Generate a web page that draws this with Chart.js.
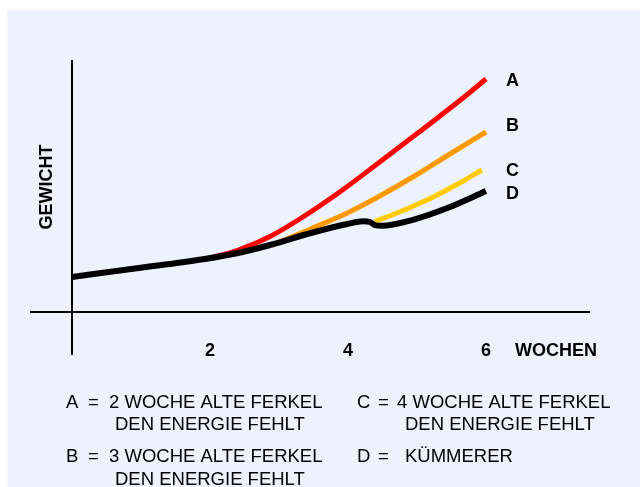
<!DOCTYPE html>
<html><head><meta charset="utf-8">
<style>html,body{margin:0;padding:0;background:#fff;}canvas{display:block;}</style>
<script src="https://cdn.jsdelivr.net/npm/chart.js@4.4.0/dist/chart.umd.min.js"></script>
</head><body>
<canvas id="c" width="640" height="487"></canvas>
<script>
// ---- data (weeks vs. relative weight) ----
const weeksD   = [0.00, 0.94, 1.90, 2.39, 2.87, 3.49, 3.99, 4.22, 4.32, 4.39, 4.49, 4.94, 5.43, 6.00];
const weightD  = [3.50, 4.37, 5.27, 5.87, 6.70, 7.95, 8.80, 9.08, 9.00, 8.68, 8.62, 9.22, 10.37, 12.10];
const weeksA   = [2.00, 2.43, 2.87, 3.30, 3.88, 4.46, 5.04, 5.62, 6.00];
const weightA  = [5.37, 6.25, 7.55, 9.30, 12.00, 15.00, 18.05, 21.15, 23.30];
const weeksB   = [2.90, 3.49, 3.99, 4.46, 4.94, 5.43, 6.00];
const weightB  = [6.68, 8.40, 9.90, 11.60, 13.50, 15.60, 18.00];
const weeksC   = [4.39, 4.71, 5.19, 5.67, 5.94];
const weightC  = [9.05, 9.90, 11.35, 13.10, 14.20];
const seriesNames = ['A', 'B', 'C', 'D'];
const tickWeeks = [2, 4, 6];
const tickLabels = ['2', '4', '6'];
const xTitle = 'WOCHEN';
const yTitle = 'GEWICHT';
const legendKeys = ['A', 'B', 'C', 'D'];
const legendText = [
  ['2 WOCHE ALTE FERKEL', 'DEN ENERGIE FEHLT'],
  ['3 WOCHE ALTE FERKEL', 'DEN ENERGIE FEHLT'],
  ['4 WOCHE ALTE FERKEL', 'DEN ENERGIE FEHLT'],
  ['KÜMMERER']
];

const FONT = '"Liberation Sans", Arial, Helvetica, sans-serif';
const pts = (xs, ys) => xs.map((x, i) => ({x: x, y: ys[i]}));

function capText(ctx, txt, x, cy, size, bold, align) {
  ctx.font = (bold ? 'bold ' : '') + size + 'px ' + FONT;
  ctx.textAlign = align || 'left';
  ctx.textBaseline = 'alphabetic';
  ctx.fillText(txt, x, cy + size * 0.716 / 2);
}

const bgPlugin = {
  id: 'bg',
  beforeDraw(chart) {
    const ctx = chart.ctx;
    ctx.save();
    ctx.fillStyle = '#ffffff';
    ctx.fillRect(0, 0, chart.width, chart.height);
    ctx.fillStyle = '#eef2fd';
    ctx.fillRect(7, 10, chart.width - 7, chart.height - 10);
    ctx.restore();
  }
};

const axesPlugin = {
  id: 'axes',
  beforeDatasetsDraw(chart) {
    const {ctx, chartArea: a, scales: {x, y}} = chart;
    ctx.save();
    ctx.strokeStyle = '#000';
    ctx.lineWidth = 2;
    const x0 = Math.round(x.getPixelForValue(0));
    const y0 = Math.round(y.getPixelForValue(0));
    ctx.beginPath();
    ctx.moveTo(x0, a.top); ctx.lineTo(x0, a.bottom);
    ctx.moveTo(a.left, y0); ctx.lineTo(a.right, y0);
    ctx.stroke();
    ctx.restore();
  },
  afterDraw(chart) {
    const {ctx, scales: {x, y}} = chart;
    ctx.save();
    ctx.fillStyle = '#000';
    tickWeeks.forEach((w, i) => capText(ctx, tickLabels[i], x.getPixelForValue(w), 350, 18, true, 'center'));
    capText(ctx, xTitle, 556, 350, 18, true, 'center');
    ctx.save();
    ctx.translate(46, 187);
    ctx.rotate(-Math.PI / 2);
    capText(ctx, yTitle, 0, 0, 18, true, 'center');
    ctx.restore();
    const dy = {A: 1, B: -7, C: 0, D: 1.5};
    chart.data.datasets.forEach(ds => {
      const last = ds.data[ds.data.length - 1];
      capText(ctx, ds.label, 506, y.getPixelForValue(last.y) + dy[ds.label], 18, true, 'left');
    });
    const cols = [
      {k: 66, eq: 88, t: 109, t2: 115},
      {k: 357, eq: 378, t: 397, t2: 405}
    ];
    const rows = [[401, 423], [455, 478]];
    const place = [[0, 0], [0, 1], [1, 0], [1, 1]];
    legendKeys.forEach((k, i) => {
      const c = cols[place[i][0]], r = rows[place[i][1]];
      const single = legendText[i].length === 1;
      capText(ctx, k, c.k, r[0], 18.5, false, 'left');
      capText(ctx, '=', c.eq, r[0], 18.5, false, 'left');
      capText(ctx, legendText[i][0], single ? c.t2 : c.t, r[0], 18.5, false, 'left');
      if (!single) capText(ctx, legendText[i][1], c.t2, r[1], 18.5, false, 'left');
    });
    ctx.restore();
  }
};

new Chart(document.getElementById('c'), {
  type: 'line',
  data: {
    datasets: [
      {label: seriesNames[3], data: pts(weeksD, weightD), borderColor: '#000000', borderWidth: 6, order: 0},
      {label: seriesNames[2], data: pts(weeksC, weightC), borderColor: '#ffcc00', borderWidth: 5, order: 1},
      {label: seriesNames[1], data: pts(weeksB, weightB), borderColor: '#ff9900', borderWidth: 5, order: 2},
      {label: seriesNames[0], data: pts(weeksA, weightA), borderColor: '#ff0000', borderWidth: 5, order: 3}
    ]
  },
  options: {
    responsive: false,
    animation: false,
    devicePixelRatio: 1,
    layout: {padding: {left: 30, right: 50, top: 60, bottom: 132}},
    elements: {
      point: {radius: 0, hoverRadius: 0},
      line: {cubicInterpolationMode: 'monotone', fill: false, borderCapStyle: 'butt', borderJoinStyle: 'round'}
    },
    scales: {
      x: {type: 'linear', display: false, min: -0.6087, max: 7.507},
      y: {type: 'linear', display: false, min: -4.3, max: 25.2}
    },
    plugins: {legend: {display: false}, tooltip: {enabled: false}},
    events: []
  },
  plugins: [bgPlugin, axesPlugin]
});
</script>
</body></html>
